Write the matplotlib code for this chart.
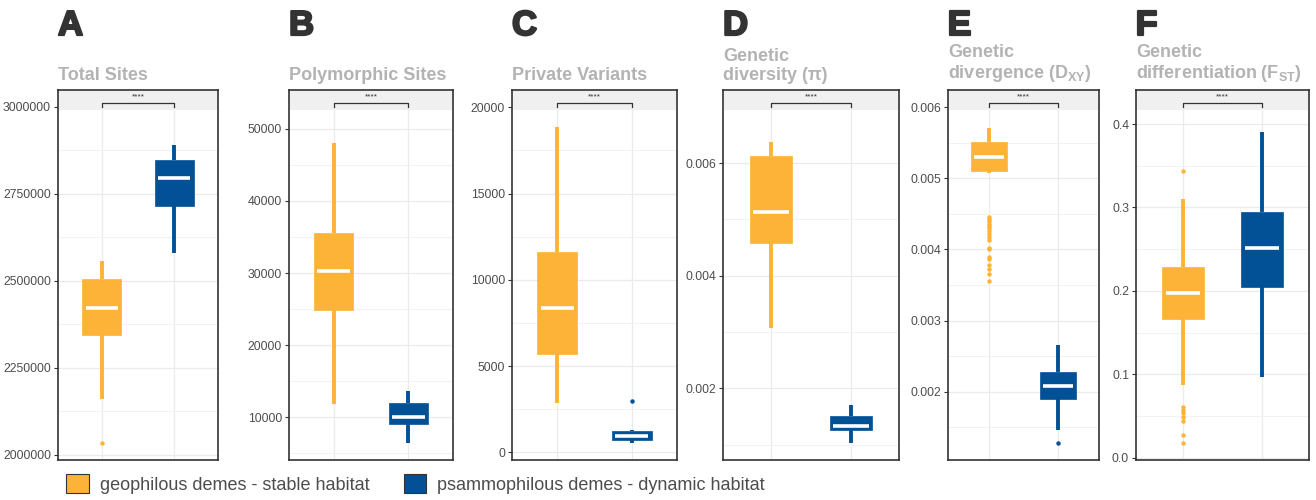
import matplotlib
matplotlib.use('Agg')
import matplotlib.pyplot as plt
from matplotlib.patches import Rectangle, Patch
from matplotlib.ticker import AutoMinorLocator
import matplotlib.transforms as mtransforms
import matplotlib.patheffects as pe

plt.rcParams['font.family'] = ['Liberation Sans', 'DejaVu Sans']
plt.rcParams['mathtext.fontset'] = 'custom'
plt.rcParams['mathtext.bf'] = 'Liberation Sans:bold'
plt.rcParams['mathtext.rm'] = 'Liberation Sans:bold'

geo_col = '#FDB338'
psa_col = '#025196'
groups = ['geophilous demes - stable habitat', 'psammophilous demes - dynamic habitat']

letters = ['A', 'B', 'C', 'D', 'E', 'F']
titles = ['Total Sites', 'Polymorphic Sites', 'Private Variants',
          'Genetic\ndiversity (π)', 'Genetic\ndivergence ($\\mathbf{D_{XY}}$)',
          'Genetic\ndifferentiation ($\\mathbf{F_{ST}}$)']

# box stats: whisker low, q1, median, q3, whisker high
a_geo = [2161800, 2345700, 2423000, 2504900, 2558000]
a_geo_out = [2033600]
a_psa = [2579600, 2715500, 2795000, 2847700, 2890800]
a_psa_out = []

b_geo = [11840, 24875, 30320, 35540, 47980]
b_geo_out = []
b_psa = [6480, 9070, 10000, 12020, 13690]
b_psa_out = []

c_geo = [2840, 5696, 8336, 11606, 18875]
c_geo_out = []
c_psa = [557, 713, 945, 1217, 1290]
c_psa_out = [2990]

d_geo = [0.003076, 0.004576, 0.005134, 0.006124, 0.006379]
d_geo_out = []
d_psa = [0.001022, 0.001253, 0.001336, 0.001502, 0.001698]
d_psa_out = []

e_geo = [0.00507, 0.005103, 0.005295, 0.005508, 0.005713]
e_geo_out = [0.00445, 0.00443, 0.00440, 0.00436, 0.00433, 0.00430, 0.00426,
             0.00422, 0.00418, 0.00414, 0.00402, 0.00400, 0.00390, 0.00387,
             0.00378, 0.00373, 0.00366, 0.00356]
e_psa = [0.001461, 0.001897, 0.00208, 0.002272, 0.002653]
e_psa_out = [0.001274]

f_geo = [0.0872, 0.1660, 0.1976, 0.2291, 0.3103]
f_geo_out = [0.3433, 0.0604, 0.0572, 0.0532, 0.0492, 0.0444, 0.0272, 0.0172]
f_psa = [0.0971, 0.2050, 0.2515, 0.2942, 0.3903]
f_psa_out = []

a_ticks = [2000000, 2250000, 2500000, 2750000, 3000000]
b_ticks = [10000, 20000, 30000, 40000, 50000]
c_ticks = [0, 5000, 10000, 15000, 20000]
d_ticks = [0.002, 0.004, 0.006]
e_ticks = [0.002, 0.003, 0.004, 0.005, 0.006]
f_ticks = [0.0, 0.1, 0.2, 0.3, 0.4]
a_labels = ['2000000', '2250000', '2500000', '2750000', '3000000']
b_labels = ['10000', '20000', '30000', '40000', '50000']
c_labels = ['0', '5000', '10000', '15000', '20000']
d_labels = ['0.002', '0.004', '0.006']
e_labels = ['0.002', '0.003', '0.004', '0.005', '0.006']
f_labels = ['0.0', '0.1', '0.2', '0.3', '0.4']

panels = [
    (a_geo, a_geo_out, a_psa, a_psa_out, a_ticks, a_labels, (1985600, 3048850)),
    (b_geo, b_geo_out, b_psa, b_psa_out, b_ticks, b_labels, (4086, 55360)),
    (c_geo, c_geo_out, c_psa, c_psa_out, c_ticks, c_labels, (-446, 21000)),
    (d_geo, d_geo_out, d_psa, d_psa_out, d_ticks, d_labels, (0.000725, 0.0073)),
    (e_geo, e_geo_out, e_psa, e_psa_out, e_ticks, e_labels, (0.001039, 0.006243)),
    (f_geo, f_geo_out, f_psa, f_psa_out, f_ticks, f_labels, (-0.0028, 0.4408)),
]

W, H = 1316, 500
lefts = [58, 289, 512, 723, 948, 1136]
rights = [218, 453, 677, 899, 1099, 1309]
top, bottom = 90, 460
box_w = 0.53

fig = plt.figure(figsize=(W / 100, H / 100), dpi=100)

def stats(v, out):
    return dict(whislo=v[0], q1=v[1], med=v[2], q3=v[3], whishi=v[4], fliers=out)

for i, (g, go, p, po, ticks, labels, ylim) in enumerate(panels):
    l, r = lefts[i], rights[i]
    ax = fig.add_axes([l / W, (H - bottom) / H, (r - l) / W, (bottom - top) / H])
    ax.set_axisbelow(True)
    bp = ax.bxp([stats(g, go), stats(p, po)], positions=[1, 2], widths=box_w,
                patch_artist=True, showcaps=False,
                medianprops=dict(color='white', linewidth=2.6, solid_capstyle='butt'),
                whiskerprops=dict(linewidth=2.8, solid_capstyle='butt'),
                flierprops=dict(marker='o', markersize=3.2, markeredgewidth=0))
    for k, col in enumerate([geo_col, psa_col]):
        bp['boxes'][k].set_facecolor(col)
        bp['boxes'][k].set_edgecolor(col)
        bp['boxes'][k].set_linewidth(0.5)
        for w in bp['whiskers'][2 * k:2 * k + 2]:
            w.set_color(col)
            w.set_zorder(1.8)
        bp['fliers'][k].set_markerfacecolor(col)
        # keep the white median inside the box
        m = bp['medians'][k]
        x0 = k + 1
        m.set_xdata([x0 - box_w / 2 + 0.045, x0 + box_w / 2 - 0.045])
    ax.set_xlim(0.4, 2.6)
    ax.set_ylim(*ylim)
    ax.set_yticks(ticks)
    ax.set_yticklabels(labels)
    ax.yaxis.set_minor_locator(AutoMinorLocator(2))
    ax.set_xticks([1, 2])
    ax.set_xticklabels(['', ''])
    ax.tick_params(axis='x', length=0)
    ax.tick_params(axis='y', which='major', length=3, width=0.8, color='#333333',
                   labelsize=8.8, labelcolor='#4d4d4d', pad=2)
    ax.tick_params(axis='y', which='minor', length=0)
    ax.grid(True, which='major', color='#ebebeb', linewidth=0.9)
    ax.grid(True, which='minor', axis='y', color='#f2f2f2', linewidth=0.7)
    for s in ax.spines.values():
        s.set_color('#333333')
        s.set_linewidth(1.2)
    # shaded strip and significance bracket
    ax.add_patch(Rectangle((0, 0.946), 1, 0.054, transform=ax.transAxes,
                           facecolor='#f0f0f0', edgecolor='none', zorder=1.5))
    tr = mtransforms.blended_transform_factory(ax.transData, ax.transAxes)
    ax.plot([1, 1, 2, 2], [0.954, 0.966, 0.966, 0.954], transform=tr,
            color='#333333', linewidth=0.9, zorder=3, clip_on=False)
    ax.text(1.5, 0.972, '****', transform=tr, ha='center', va='bottom',
            fontsize=6, color='#333333', zorder=3)
    fig.text(l / W, 1 - 35 / H, letters[i], fontsize=25, fontweight='bold',
             color='#333333', ha='left', va='baseline',
             path_effects=[pe.withStroke(linewidth=1.6, foreground='#333333')])
    fig.text(l / W, 1 - 84 / H, titles[i], fontsize=13, fontweight='bold',
             color='#b3b3b3', ha='left', va='bottom', linespacing=1.15)

handles = [Patch(facecolor=geo_col, edgecolor='#333333', linewidth=0.8),
           Patch(facecolor=psa_col, edgecolor='#333333', linewidth=0.8)]
fig.legend(handles, groups, loc='lower left', bbox_to_anchor=(50 / W, -0.02),
           ncol=2, frameon=False, fontsize=13, labelcolor='#4d4d4d',
           handlelength=1.25, handleheight=1.25, handletextpad=0.6,
           columnspacing=1.9)

fig.savefig('out.png', dpi=100)
